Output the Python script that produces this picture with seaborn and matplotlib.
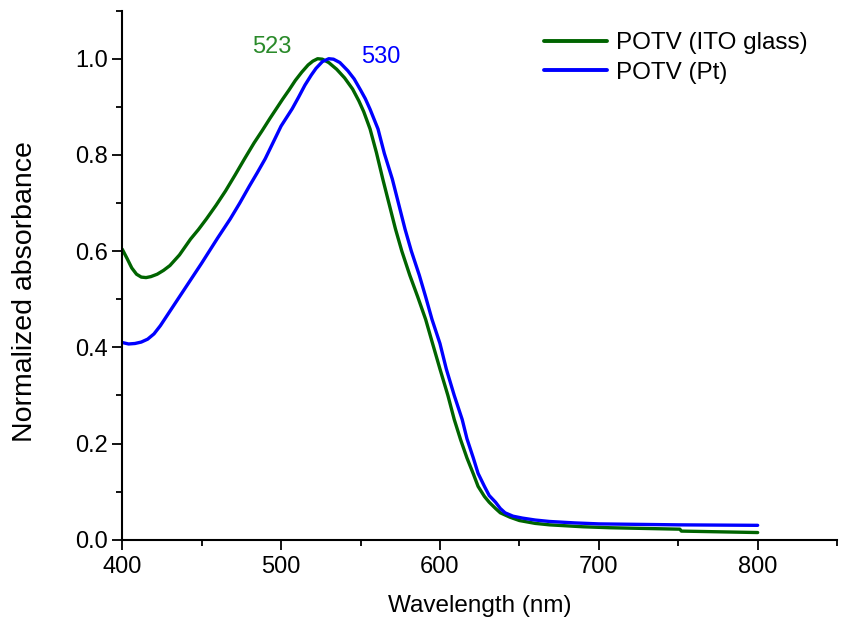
import numpy as np
import pandas as pd
import matplotlib
matplotlib.use("Agg")
import matplotlib.pyplot as plt
import seaborn as sns
from matplotlib.ticker import MultipleLocator

# values
wl_ito = [400, 403, 406, 409, 412, 415, 418, 422, 426, 430, 436, 443, 448, 453, 459, 465, 471,
          477, 483, 488, 493, 497, 501, 505, 509, 513, 517, 520, 523, 526, 530, 535, 540, 545,
          549, 552, 556, 560, 564, 568, 572, 576, 581, 586, 591, 595, 600, 605, 609, 613, 617,
          621, 624, 628, 631, 635, 638, 644, 650, 660, 669, 690, 707, 751, 752, 800]
abs_ito = [0.604, 0.585, 0.565, 0.552, 0.546, 0.545, 0.547, 0.552, 0.560, 0.570, 0.592, 0.625,
           0.645, 0.667, 0.695, 0.725, 0.758, 0.792, 0.825, 0.850, 0.876, 0.896, 0.916, 0.935,
           0.955, 0.972, 0.987, 0.995, 1.000, 0.999, 0.992, 0.978, 0.960, 0.937, 0.912, 0.890,
           0.854, 0.805, 0.750, 0.698, 0.646, 0.600, 0.550, 0.505, 0.458, 0.412, 0.355, 0.300,
           0.250, 0.208, 0.170, 0.137, 0.111, 0.090, 0.078, 0.065, 0.056, 0.047, 0.040, 0.034,
           0.031, 0.027, 0.025, 0.022, 0.018, 0.015]

wl_pt = [400, 404, 408, 412, 416, 420, 424, 428, 434, 440, 445, 450, 455, 460, 468, 474, 480,
         485, 490, 495, 500, 507, 511, 515, 519, 522, 526, 530, 533, 537, 542, 546, 550, 553,
         556, 561, 565, 570, 574, 578, 582, 587, 591, 595, 600, 604, 609, 614, 617, 621, 624,
         628, 631, 635, 638, 641, 646, 652, 660, 669, 685, 700, 750, 800]
abs_pt = [0.410, 0.407, 0.408, 0.411, 0.417, 0.428, 0.445, 0.465, 0.495, 0.525, 0.550, 0.575,
          0.601, 0.627, 0.667, 0.700, 0.735, 0.763, 0.792, 0.826, 0.860, 0.896, 0.920, 0.945,
          0.966, 0.980, 0.994, 1.000, 0.999, 0.992, 0.975, 0.958, 0.935, 0.917, 0.895, 0.854,
          0.803, 0.750, 0.698, 0.646, 0.600, 0.550, 0.505, 0.458, 0.408, 0.355, 0.300, 0.250,
          0.210, 0.170, 0.138, 0.111, 0.092, 0.078, 0.065, 0.056, 0.049, 0.045, 0.041, 0.038,
          0.035, 0.033, 0.031, 0.030]

labels = ["POTV (ITO glass)", "POTV (Pt)"]
peaks = [523, 530]

df = pd.concat([
    pd.DataFrame({"Wavelength": wl_ito, "Absorbance": abs_ito, "Sample": labels[0]}),
    pd.DataFrame({"Wavelength": wl_pt, "Absorbance": abs_pt, "Sample": labels[1]}),
])

sns.set_style("ticks")
plt.rcParams["font.family"] = ["Liberation Sans", "DejaVu Sans"]
plt.rcParams.update({"text.color": "black", "axes.labelcolor": "black",
                     "xtick.color": "black", "ytick.color": "black"})

fig = plt.figure(figsize=(8.43, 6.24), dpi=100)
ax = fig.add_axes([0.145, 0.135, 0.848, 0.848])

sns.lineplot(data=df, x="Wavelength", y="Absorbance", hue="Sample",
             palette={labels[0]: "#006400", labels[1]: "#0000ff"},
             linewidth=2.4, sort=False, estimator=None, ax=ax)

ax.set_xlim(400, 850)
ax.set_ylim(0, 1.1)
ax.xaxis.set_major_locator(MultipleLocator(100))
ax.xaxis.set_minor_locator(MultipleLocator(50))
ax.yaxis.set_major_locator(MultipleLocator(0.2))
ax.yaxis.set_minor_locator(MultipleLocator(0.1))
ax.set_xticks([400, 500, 600, 700, 800])
ax.set_yticks([0.0, 0.2, 0.4, 0.6, 0.8, 1.0])
ax.set_yticklabels(["0.0", "0.2", "0.4", "0.6", "0.8", "1.0"])
ax.tick_params(which="major", direction="out", length=7, width=1.3, labelsize=17, color="black")
ax.tick_params(which="minor", direction="out", length=4, width=1.3, color="black")
ax.tick_params(axis="x", which="major", pad=5)
for side in ["left", "bottom"]:
    ax.spines[side].set_linewidth(1.5)
    ax.spines[side].set_color("black")
sns.despine(ax=ax)

ax.set_xlabel("Wavelength (nm)", fontsize=17.5, labelpad=12)
ax.set_ylabel("Normalized absorbance", fontsize=20.5)
ax.yaxis.set_label_coords(-0.118, 0.469)

ax.text(494, 1.025, str(peaks[0]), color="#2a8a2a", fontsize=17, ha="center", va="center")
ax.text(563, 1.004, str(peaks[1]), color="#0000ff", fontsize=17, ha="center", va="center")

leg = ax.legend(loc="upper right", bbox_to_anchor=(0.99, 1.0), frameon=False, fontsize=17.5,
                handlelength=2.6, handletextpad=0.4, labelspacing=0.3)
for line in leg.get_lines():
    line.set_linewidth(2.8)

fig.savefig("out.png", dpi=100)
